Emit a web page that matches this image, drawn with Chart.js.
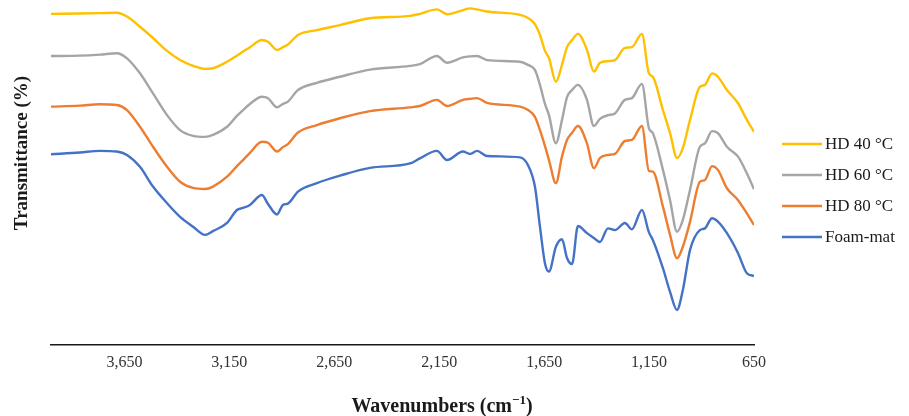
<!DOCTYPE html>
<html>
<head>
<meta charset="utf-8">
<script src="https://cdn.jsdelivr.net/npm/chart.js@4.4.1/dist/chart.umd.min.js"></script>
<style>
  html, body { margin: 0; padding: 0; background: #ffffff; }
  #wrap { width: 909px; height: 416px; position: relative; }
</style>
</head>
<body>
<div id="wrap"><canvas id="c" width="909" height="416"></canvas></div>
<script>
// Wavenumbers (cm-1), shared sampling grid for all spectra
const wavenumbers = [4000,3862,3767,3686,3638,3576,3514,3447,3385,3323,
  3266,3228,3161,3114,3085,3052,2995,2966,2923,2895,
  2871,2823,2733,2623,2480,2289,2242,2161,2113,2037,
  2003,1970,1922,1765,1727,1694,1670,1646,1627,1594,
  1565,1541,1517,1489,1446,1413,1384,1346,1313,1265,
  1232,1184,1151,1132,1084,1050,1017,989,955,908,
  884,850,822,779,726,684,650];

// Transmittance (arbitrary offset units, no y ticks on the original)
const hd40 = [97.4,97.5,97.6,97.7,96.6,93.6,90.3,86.5,83.8,82.1,
  81.2,81.4,83.3,85.1,86.3,87.6,89.7,89.2,86.8,87.6,
  88.4,91.2,92.6,94.1,96.1,96.8,97.4,98.7,97.3,98.5,
  99.0,98.7,98.1,97.1,96.2,94.4,91.2,86.5,84.4,77.4,
  82.4,87.6,89.7,91.5,86.8,80.4,83.0,83.5,83.8,87.4,
  87.6,91.5,79.9,78.9,69.1,62.3,55.0,57.9,66.2,75.9,
  76.5,79.9,78.9,75.0,71.1,66.2,62.7];

const hd60 = [85.0,85.1,85.4,85.8,84.3,79.9,74.0,67.6,63.2,61.5,
  61.2,61.8,64.2,67.4,69.1,70.9,73.0,72.6,69.9,70.9,
  71.6,75.0,77.1,78.9,81.0,82.1,82.6,85.0,83.0,84.6,
  84.9,85.0,83.8,83.3,82.4,80.9,76.5,70.9,67.6,59.3,
  66.2,72.9,75.0,76.5,72.1,64.4,66.5,67.6,68.1,72.1,
  72.6,76.8,63.8,62.3,51.5,42.6,33.3,36.8,45.6,58.3,
  59.3,62.9,62.3,58.3,55.4,50.5,45.8];

const hd80 = [70.1,70.4,70.8,70.6,69.1,64.2,58.3,52.4,48.0,46.2,
  45.9,46.6,49.5,52.6,54.4,56.5,59.8,59.5,56.9,58.2,
  59.1,62.5,64.7,66.7,68.8,69.9,70.3,72.1,70.3,72.1,
  72.4,72.6,71.2,70.1,69.1,67.1,63.2,58.5,54.4,47.6,
  55.4,60.3,62.4,64.4,59.3,52.0,55.0,55.9,56.2,60.0,
  60.3,64.4,51.2,51.0,40.7,32.4,25.5,28.9,36.2,48.0,
  48.5,52.6,51.5,46.1,42.6,38.7,35.3];

const foamMat = [56.1,56.6,57.1,56.9,55.9,52.4,46.6,41.7,37.7,34.8,
  32.4,33.5,35.9,39.7,40.3,41.2,44.1,41.5,38.4,41.2,
  41.6,45.1,47.6,49.8,52.1,53.4,54.9,57.1,54.4,56.9,
  56.2,57.1,55.6,55.2,52.9,46.6,34.8,24.0,21.6,28.9,
  31.1,25.6,23.8,35.0,32.9,31.5,30.3,34.3,33.8,35.9,
  34.0,39.7,33.2,30.9,22.6,15.6,10.3,16.2,27.9,33.8,
  34.3,37.3,36.3,32.9,27.0,21.1,20.3];

const seriesNames = ['HD 40 °C', 'HD 60 °C', 'HD 80 °C', 'Foam-mat'];
const seriesColors = ['#FFC000', '#A5A5A5', '#ED7D31', '#4472C4'];
const xTickValues = [3650, 3150, 2650, 2150, 1650, 1150, 650];
const xTitleMain = 'Wavenumbers (cm';
const xTitleSup = '−1';
const xTitleEnd = ')';
const yTitle = 'Transmittance (%)';

const serifFont = "'Times New Roman', 'Liberation Serif', serif";
const allSeries = [hd40, hd60, hd80, foamMat];

const datasets = allSeries.map((vals, i) => ({
  label: seriesNames[i],
  data: wavenumbers.map((w, j) => ({ x: w, y: vals[j] })),
  borderColor: seriesColors[i],
  backgroundColor: seriesColors[i],
  borderWidth: 2.4,
  pointRadius: 0,
  cubicInterpolationMode: 'monotone',
  fill: false
}));

const customText = {
  id: 'customText',
  afterDraw(chart) {
    const ctx = chart.ctx;
    // y-axis title
    ctx.save();
    ctx.fillStyle = '#1a1a1a';
    ctx.font = "bold 19px " + serifFont;
    ctx.textAlign = 'center';
    ctx.textBaseline = 'middle';
    ctx.translate(22, 153);
    ctx.rotate(-Math.PI / 2);
    ctx.fillText(yTitle, 0, 0);
    ctx.restore();

    // x-axis title with superscript
    ctx.save();
    ctx.fillStyle = '#1a1a1a';
    ctx.textBaseline = 'alphabetic';
    ctx.textAlign = 'left';
    const mainFont = "bold 20px " + serifFont;
    const supFont = "bold 13px " + serifFont;
    ctx.font = mainFont;
    const w1 = ctx.measureText(xTitleMain).width;
    const w3 = ctx.measureText(xTitleEnd).width;
    ctx.font = supFont;
    const w2 = ctx.measureText(xTitleSup).width;
    const total = w1 + w2 + w3;
    const cx = 442, base = 412;
    let x0 = cx - total / 2;
    ctx.font = mainFont;
    ctx.fillText(xTitleMain, x0, base);
    ctx.font = supFont;
    ctx.fillText(xTitleSup, x0 + w1, base - 8);
    ctx.font = mainFont;
    ctx.fillText(xTitleEnd, x0 + w1 + w2, base);
    ctx.restore();

    // legend
    ctx.save();
    const rows = [144, 175, 206, 237];
    chart.data.datasets.forEach((ds, i) => {
      const y = rows[i];
      ctx.strokeStyle = ds.borderColor;
      ctx.lineWidth = 2.5;
      ctx.beginPath();
      ctx.moveTo(782, y);
      ctx.lineTo(822, y);
      ctx.stroke();
      ctx.fillStyle = '#1a1a1a';
      ctx.font = "17px " + serifFont;
      ctx.textAlign = 'left';
      ctx.textBaseline = 'middle';
      ctx.fillText(ds.label, 825, y + 1);
    });
    ctx.restore();
  }
};

new Chart(document.getElementById('c'), {
  type: 'line',
  data: { datasets },
  options: {
    responsive: false,
    animation: false,
    layout: { padding: { left: 51, right: 155, top: 5, bottom: 0 } },
    plugins: {
      legend: { display: false },
      tooltip: { enabled: false }
    },
    scales: {
      x: {
        type: 'linear',
        reverse: true,
        min: 650,
        max: 4000,
        afterBuildTicks: (scale) => { scale.ticks = xTickValues.map(v => ({ value: v })); },
        afterFit: (scale) => { scale.height = 71; },
        grid: { display: true, drawOnChartArea: false, drawTicks: false },
        border: { display: true, color: '#1a1a1a', width: 1.5 },
        ticks: {
          padding: 8,
          color: '#333333',
          font: { family: serifFont, size: 16 },
          maxRotation: 0,
          autoSkip: false,
          callback: (v) => Number(v).toLocaleString('en-US')
        },
        title: { display: false }
      },
      y: {
        display: false,
        min: 0,
        max: 100
      }
    }
  },
  plugins: [customText]
});
</script>
</body>
</html>
